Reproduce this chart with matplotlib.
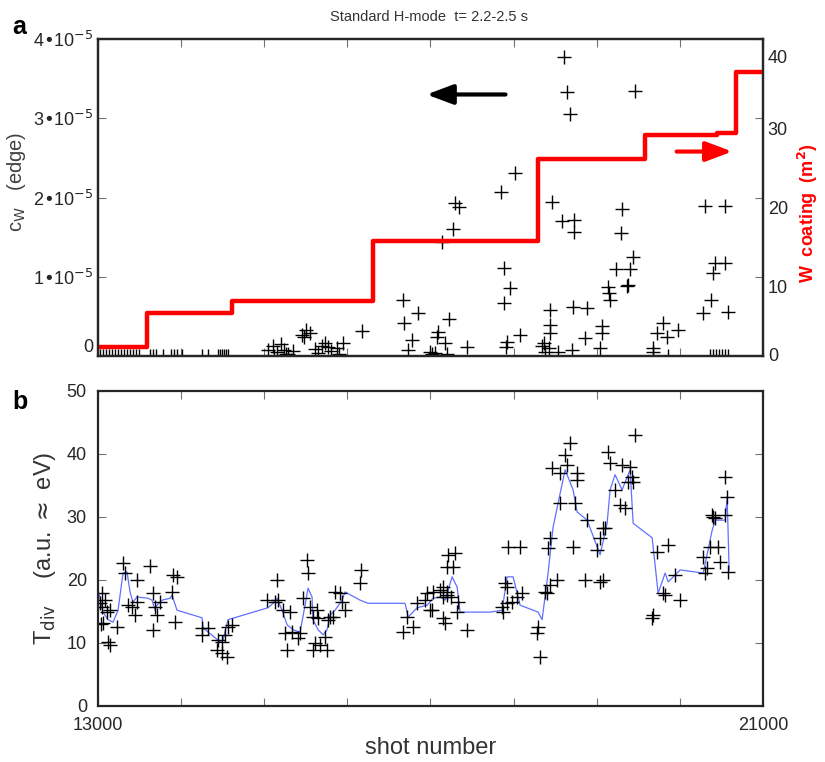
import numpy as np
import matplotlib
matplotlib.use("Agg")
import matplotlib.pyplot as plt
import matplotlib.transforms as mtrans

plt.rcParams['font.family'] = ['Liberation Sans', 'DejaVu Sans']

# --- panel a: W concentration (units of 1e-5) vs shot number
cw_shot = [15040, 15100, 15150, 15200, 15240, 15290, 15340, 15120, 15260,
           15455, 15479, 15503, 15551,
           15611, 15650, 15700, 15732, 15768, 15800, 15876, 15948, 15900,
           16177,
           16670, 16682, 16851, 16779, 16730,
           16995, 17020, 17050, 17092, 17080, 17176, 17140, 17200, 17224, 17272, 17296, 17344, 17440,
           17850, 17886, 17958, 17886, 17922, 17910, 18018, 18078,
           18340, 18360, 18380, 18439, 18439, 18439, 18420, 18463, 18535, 18584, 18608, 18644, 18680,
           18728, 18728, 18716, 18704, 18885, 18860,
           19041, 19065, 19065, 19137, 19149, 19161, 19233, 19294, 19306, 19366, 19380, 19402, 19438, 19462,
           19679, 19679, 19727, 19799, 19847, 19980,
           20280, 20304, 20377, 20400, 20425, 20545, 20545, 20581]
cw_val = [0.08, 0.12, 0.05, 0.15, 0.08, 0.03, 0.06, 0.0, 0.02,
          0.27, 0.24, 0.33, 0.29,
          0.09, 0.04, 0.12, 0.16, 0.11, 0.06, 0.10, 0.16, 0.03,
          0.32,
          0.71, 0.42, 0.54, 0.20, 0.08,
          0.05, 0.02, 0.04, 0.30, 0.24, 0.16, 1.44, 0.02, 0.47, 1.60, 1.93, 1.88, 0.11,
          2.07, 1.11, 0.86, 0.67, 0.18, 0.11, 2.31, 0.26,
          0.12, 0.16, 0.05, 0.58, 0.39, 0.29, 0.10, 1.94, 0.05, 1.70, 3.77, 3.33, 3.05,
          1.72, 1.56, 0.62, 0.08, 0.60, 0.23,
          0.10, 0.38, 0.29, 0.87, 0.79, 0.71, 1.10, 1.55, 1.85, 0.88, 0.90, 1.10, 1.25, 3.34,
          0.10, 0.05, 0.29, 0.42, 0.24, 0.33,
          0.54, 1.89, 0.71, 1.05, 1.17, 1.17, 1.89, 0.55]

# shots with zero W signal (drawn on the axis)
zero_shot = [13024, 13060, 13096, 13132, 13168, 13204, 13241, 13277, 13313, 13349,
             13385, 13421, 13457, 13493, 13626, 13662, 13698, 13782, 13878, 13914,
             13950, 14010, 14251, 14323, 14444, 14468, 14492, 14516, 14540, 14564,
             19860, 20365, 20400, 20435, 20470, 20505, 20540, 20575]

# W coated area (m^2), step function
coat_shot = [13000, 13590, 14612, 16309, 18295, 19582, 20449, 20677, 21000]
coat_area = [1.1, 5.4, 7.0, 14.5, 24.8, 27.9, 28.1, 35.8, 35.8]

# --- panel b: divertor temperature
t_shot = [13300, 13325, 13470, 13625, 13900, 13950, 13050, 13085, 13050, 13110, 13145,
          13060, 13230, 13120, 13145, 13360, 13410, 13445, 13470, 13660, 13685, 13710,
          13745, 13890, 13925, 13660, 13020, 13030,
          14250, 14320, 14250, 14445, 14490, 14530, 14430, 14490, 14550, 14565, 14610,
          15030, 15150, 15160, 15130, 15225, 15310, 15470, 15510, 15525, 15550, 15630,
          15590, 15650, 15250, 15330, 15430, 15410, 15270, 15610, 15670, 15730, 15750,
          15590, 15790, 15830, 15770, 15850, 15910, 15935, 15970, 16170, 16150,
          16720, 16670, 16790, 16840, 16935, 17020, 16960, 17030, 17115, 17150, 17200,
          17150, 17175, 17210, 17200, 16990,
          17300, 17270, 17150, 17200, 17250, 17330, 17320, 17440,
          17860, 17870, 17920, 17980, 18040, 18100, 17900, 17920, 17930, 18080,
          18290, 18280, 18320, 18380, 18400, 18440, 18520, 18440, 18410,
          18460, 18560, 18620, 18640, 18680, 18760, 18760, 18560, 18740, 18715, 18880,
          19070, 19040, 19000, 18860, 19040, 19080,
          19135, 19160, 19300, 19400, 19425, 19440, 19380, 19220, 19280, 19340, 19460, 19100,
          19725, 19860, 19800, 19820, 19940, 20000, 19680, 19665,
          20280, 20360, 20460, 20325, 20300, 20480, 20385, 20400, 20425, 20545, 20545,
          20570, 20580]
t_val = [22.7, 21.1, 20.0, 22.2, 20.8, 20.5, 17.9, 16.8, 15.7, 14.9, 15.2,
         13.2, 12.5, 10.2, 9.7, 16.0, 15.7, 14.4, 16.5, 17.9, 15.7, 14.4,
         16.5, 18.1, 13.3, 12.1, 16.3, 13.0,
         12.4, 12.4, 11.3, 10.5, 10.2, 11.3, 8.9, 8.4, 7.8, 12.5, 12.9,
         16.8, 20.0, 16.8, 16.5, 15.2, 14.9, 17.1, 23.2, 21.1, 15.7, 15.2,
         14.1, 14.0, 11.6, 11.7, 11.6, 10.8, 8.9, 10.0, 9.7, 10.9, 8.9,
         8.9, 14.1, 14.1, 13.7, 18.1, 17.9, 16.5, 15.2, 21.6, 19.5,
         14.1, 11.7, 12.5, 16.3, 16.8, 15.2, 17.9, 18.1, 18.4, 17.3, 18.1,
         14.0, 13.2, 24.0, 22.1, 15.2,
         24.3, 22.1, 18.9, 17.6, 17.3, 16.5, 14.9, 12.1,
         15.7, 14.9, 16.3, 16.5, 17.3, 17.9, 19.5, 18.9, 25.2, 25.2,
         12.5, 11.6, 7.8, 18.1, 17.9, 19.2, 20.0, 26.7, 25.1,
         37.8, 37.0, 39.8, 38.3, 41.7, 37.0, 35.9, 32.2, 32.2, 25.2, 29.5,
         28.3, 26.7, 24.8, 20.0, 19.7, 20.0,
         40.3, 38.6, 38.3, 37.9, 36.3, 35.6, 35.6, 34.3, 31.9, 31.4, 43.0, 28.3,
         24.4, 25.6, 17.9, 17.6, 20.8, 16.8, 14.4, 14.0,
         23.7, 25.2, 25.2, 21.9, 21.1, 22.9, 30.3, 30.0, 29.8, 30.3, 36.3,
         33.2, 21.3]

# smoothed trend (blue line)
avg_shot = [13012, 13060, 13120, 13181, 13241, 13301, 13349, 13385, 13421, 13469,
            13602, 13650, 13686, 13710, 13770, 13866, 13890, 13951, 14252, 14264,
            14468, 14504, 14564, 15046, 15106, 15154, 15214, 15274, 15347, 15431,
            15491, 15527, 15575, 15587, 15647, 15708, 15756, 15792, 15852, 15936,
            15972, 16153, 16249, 16694, 16731, 16839, 16959, 17031, 17116, 17176,
            17260, 17320, 17356, 17717, 17862, 17922, 17994, 18078, 18295, 18343,
            18415, 18475, 18620, 18716, 18764, 18885, 19041, 19125, 19161, 19221,
            19305, 19402, 19438, 19667, 19739, 19823, 19860, 20004, 20281, 20389,
            20425, 20545, 20569, 20593]
avg_val = [17.9, 14.9, 13.7, 13.3, 15.2, 21.1, 21.3, 18.1, 16.5, 17.3,
           17.1, 16.8, 15.2, 16.0, 16.8, 17.1, 17.6, 15.2, 14.0, 12.4,
           10.2, 10.5, 13.7, 15.6, 16.3, 17.1, 15.2, 12.9, 12.1, 11.7,
           16.0, 18.7, 17.3, 13.7, 12.1, 11.3, 12.1, 14.4, 15.2, 16.8,
           18.1, 16.8, 16.3, 16.3, 14.1, 15.6, 16.0, 17.1, 17.3, 16.8,
           20.5, 18.9, 14.9, 14.9, 15.2, 20.5, 20.5, 16.0, 14.9, 13.7,
           21.1, 28.4, 37.5, 34.3, 30.8, 29.5, 24.0, 29.0, 34.3, 36.7,
           34.3, 37.5, 29.0, 26.7, 17.9, 21.1, 19.7, 21.6, 21.1, 27.9,
           29.5, 29.5, 33.2, 21.6]

fig = plt.figure(figsize=(8.25, 7.62), dpi=100)
ax1 = fig.add_axes([0.1188, 0.5328, 0.806, 0.416])
ax2 = fig.add_axes([0.1188, 0.0735, 0.806, 0.4134])

mk = dict(marker='+', linestyle='none', color='black', markersize=9.5, markeredgewidth=1.0)

# panel a
ax1.plot(cw_shot, cw_val, **mk)
ax1.plot(zero_shot, np.zeros(len(zero_shot)), **mk)
ax1.set_xlim(13000, 21000)
ax1.set_ylim(0, 4)
ax1.set_yticks([0, 1, 2, 3, 4])
ax1.set_yticklabels(['0', '1•10$^{-5}$', '2•10$^{-5}$', '3•10$^{-5}$', '4•10$^{-5}$'])
ax1.set_xticks(np.arange(13000, 21001, 1000))
ax1.set_xticklabels([])
ax1.tick_params(direction='in', length=6, color='0.45', labelsize=13, top=True,
                labelcolor='0.15')
ax1.get_yticklabels()[0].set_va('bottom')
ax1.set_ylabel('c$_{\\rm W}$   (edge)', fontsize=14.5, color='0.25', labelpad=2)
ax1.yaxis.set_label_coords(-0.105, 0.55)

ax1r = ax1.twinx()
ax1r.step(coat_shot, coat_area, where='post', color='#ff0000', linewidth=3.2)
ax1r.set_ylim(0, 40)
ax1r.set_yticks([0, 10, 20, 30, 40])
ax1r.tick_params(direction='in', length=6, color='0.45', labelsize=13, labelcolor='0.15')
shifts = [-2, 10, 10, 10, 17]
for lab, dy in zip(ax1r.get_yticklabels(), shifts):
    lab.set_transform(lab.get_transform() +
                      mtrans.ScaledTranslation(0, -dy / 100, fig.dpi_scale_trans))
ax1r.set_ylabel('W  coating  (m$^{\\mathbf{2}}$)', color='#ff0000', fontsize=13,
                fontweight='bold')
ax1r.yaxis.set_label_coords(1.05, 0.45)

ax1.annotate('', xy=(0.49, 0.825), xytext=(0.617, 0.825), xycoords='axes fraction',
             arrowprops=dict(arrowstyle='-|>,head_length=1.6,head_width=0.6',
                             color='black', lw=3))
ax1.annotate('', xy=(0.958, 0.645), xytext=(0.866, 0.645), xycoords='axes fraction',
             arrowprops=dict(arrowstyle='-|>,head_length=1.6,head_width=0.6',
                             color='#ff0000', lw=3))

# panel b
ax2.plot(avg_shot, avg_val, color='#6070ff', linewidth=0.9)
ax2.plot(t_shot, t_val, **mk)
ax2.set_xlim(13000, 21000)
ax2.set_ylim(0, 50)
ax2.set_yticks([0, 10, 20, 30, 40, 50])
ax2.set_xticks(np.arange(13000, 21001, 1000))
ax2.set_xticklabels(['13000', '', '', '', '', '', '', '', '21000'])
ax2.tick_params(direction='in', length=6, color='0.45', labelsize=13, top=True, right=True,
                pad=8, labelcolor='0.15')
ax2.set_ylabel('T$_{\\rm div}$    (a.u. $\\approx$ eV)', fontsize=17, color='0.2', labelpad=6)
ax2.set_xlabel('shot number', fontsize=17, color='0.2', labelpad=2)

for ax in (ax1, ax1r, ax2):
    for s in ax.spines.values():
        s.set_linewidth(1.6)
        s.set_color('0.15')

fig.text(0.52, 0.978, 'Standard H-mode  t= 2.2-2.5 s', ha='center', va='center',
         fontsize=10.5, color='0.2')
fig.text(0.015, 0.965, 'a', fontsize=18, fontweight='bold', va='center')
fig.text(0.015, 0.472, 'b', fontsize=18, fontweight='bold', va='center')

fig.savefig('out.png', dpi=100)
